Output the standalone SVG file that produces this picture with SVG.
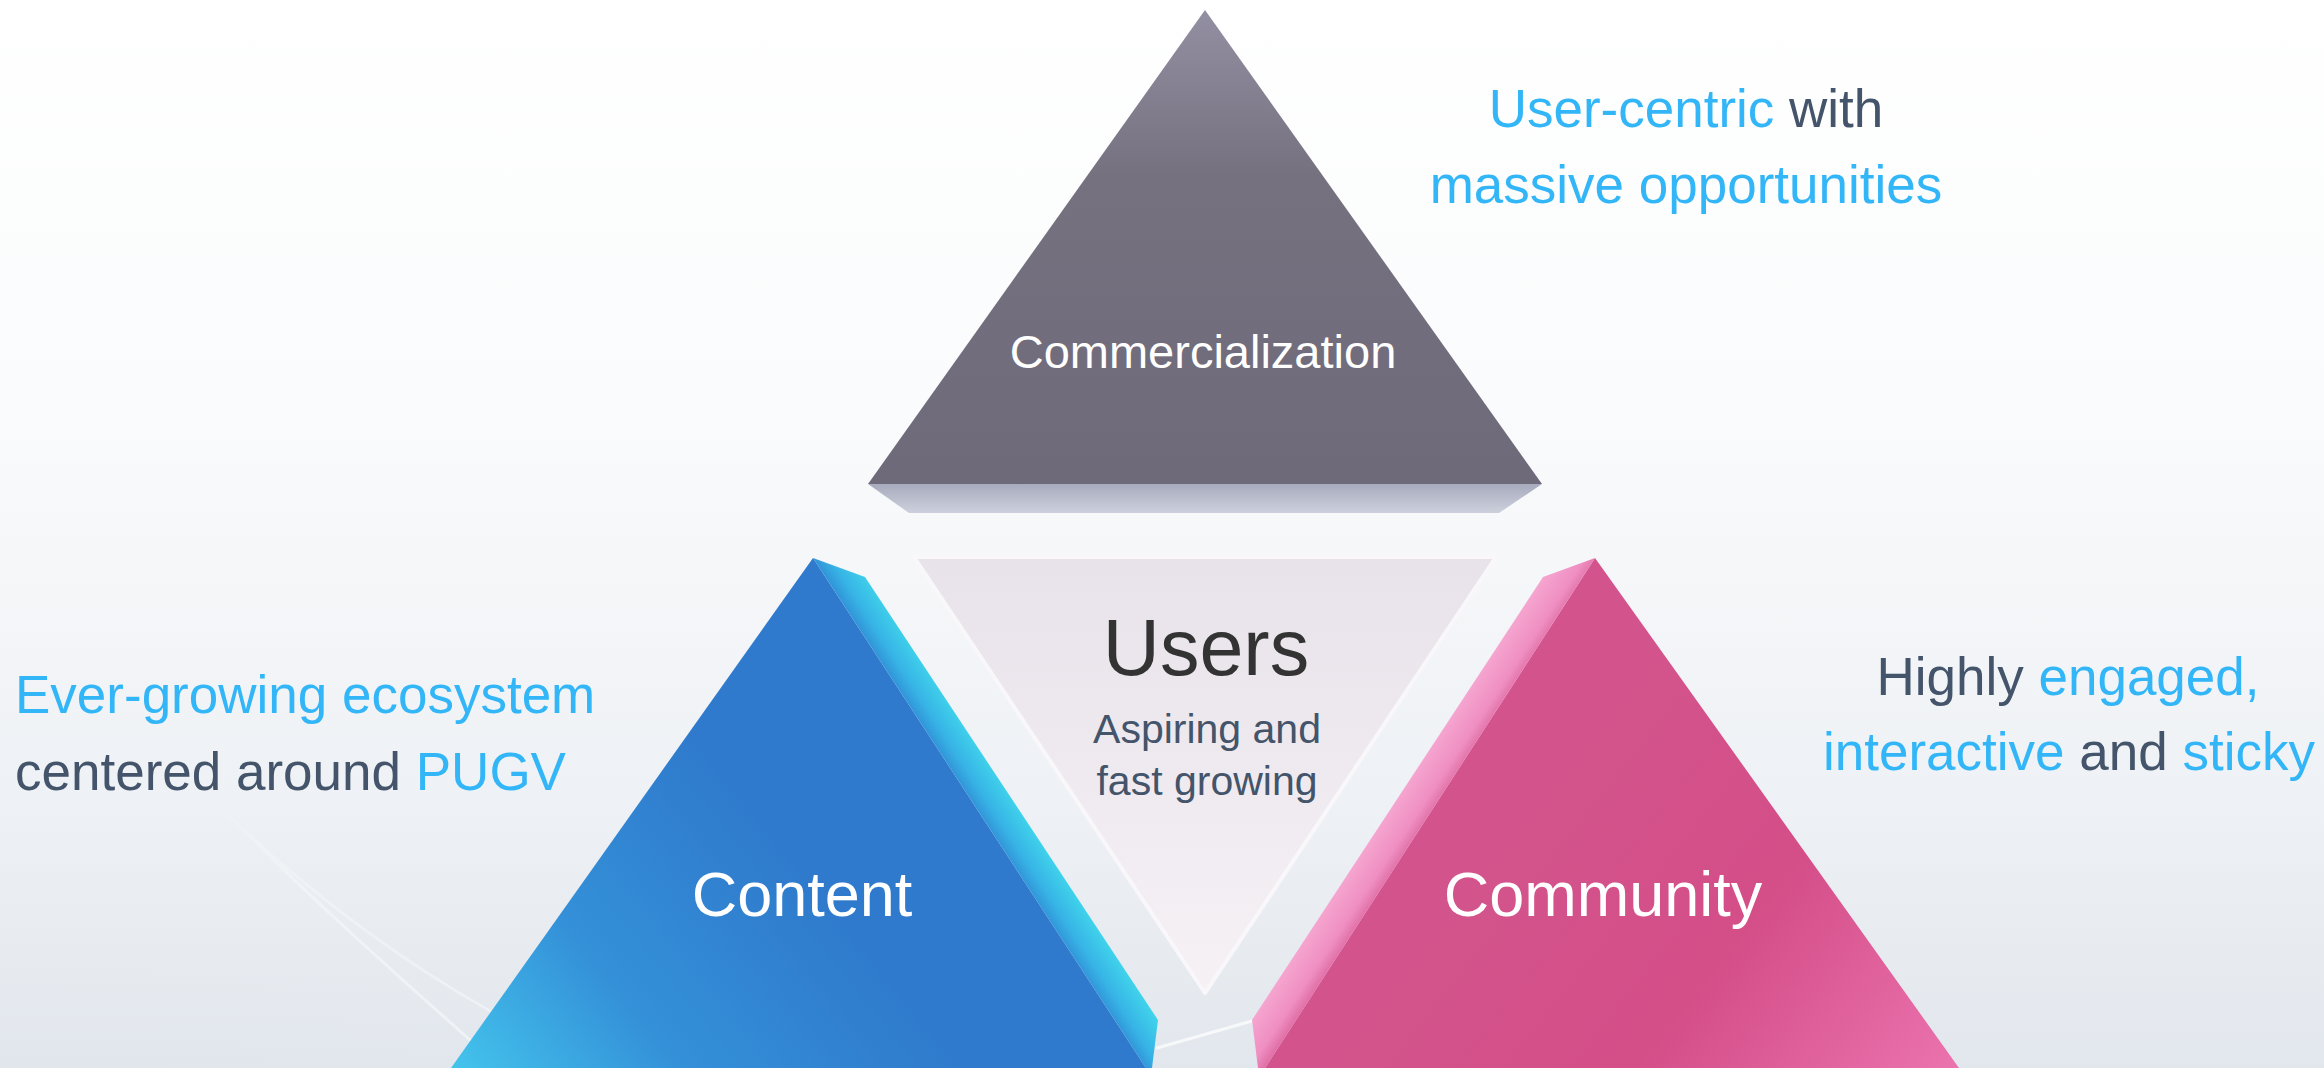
<svg xmlns="http://www.w3.org/2000/svg" width="2324" height="1068" viewBox="0 0 2324 1068">
  <defs>
    <linearGradient id="bgGrad" x1="0" y1="0" x2="0" y2="1">
      <stop offset="0" stop-color="#ffffff"/>
      <stop offset="0.38" stop-color="#fafbfc"/>
      <stop offset="0.75" stop-color="#eef1f5"/>
      <stop offset="1" stop-color="#e2e7ed"/>
    </linearGradient>
    <radialGradient id="bgShade" cx="0" cy="1" r="0.6" gradientTransform="scale(1,2.17)" gradientUnits="objectBoundingBox">
      <stop offset="0" stop-color="#d3dbe4" stop-opacity="0.8"/>
      <stop offset="1" stop-color="#d3dbe4" stop-opacity="0"/>
    </radialGradient>
    <linearGradient id="streakFade" gradientUnits="userSpaceOnUse" x1="200" y1="790" x2="490" y2="1040">
      <stop offset="0" stop-color="#ffffff" stop-opacity="0"/>
      <stop offset="0.4" stop-color="#ffffff" stop-opacity="0.6"/>
      <stop offset="1" stop-color="#ffffff" stop-opacity="0.8"/>
    </linearGradient>
    <linearGradient id="topFront" gradientUnits="userSpaceOnUse" x1="1205" y1="10" x2="1205" y2="484">
      <stop offset="0" stop-color="#938fa2"/>
      <stop offset="0.35" stop-color="#76717f"/>
      <stop offset="1" stop-color="#6f6a7a"/>
    </linearGradient>
    <linearGradient id="topBottom" gradientUnits="userSpaceOnUse" x1="0" y1="484" x2="0" y2="513">
      <stop offset="0" stop-color="#a8abbd"/>
      <stop offset="1" stop-color="#cdd0dc"/>
    </linearGradient>
    <linearGradient id="contentFront" gradientUnits="userSpaceOnUse" x1="455" y1="1068" x2="760" y2="820">
      <stop offset="0" stop-color="#43c3ec"/>
      <stop offset="0.45" stop-color="#3490d8"/>
      <stop offset="1" stop-color="#2f7acc"/>
    </linearGradient>
    <!-- runs across the bevel, inner edge to outer edge -->
    <linearGradient id="contentSide" gradientUnits="userSpaceOnUse" x1="963" y1="800" x2="1000" y2="776">
      <stop offset="0" stop-color="#2f86d2"/>
      <stop offset="0.45" stop-color="#37b4e6"/>
      <stop offset="1" stop-color="#40d4eb"/>
    </linearGradient>
    <linearGradient id="communityFront" gradientUnits="userSpaceOnUse" x1="1560" y1="760" x2="1950" y2="1068">
      <stop offset="0" stop-color="#d3548c"/>
      <stop offset="0.5" stop-color="#d44e88"/>
      <stop offset="1" stop-color="#ea72ad"/>
    </linearGradient>
    <linearGradient id="communitySide" gradientUnits="userSpaceOnUse" x1="1400" y1="790" x2="1438" y2="815">
      <stop offset="0" stop-color="#f6a7d1"/>
      <stop offset="0.6" stop-color="#ef8fc2"/>
      <stop offset="1" stop-color="#d9609a"/>
    </linearGradient>
    <linearGradient id="usersFill" gradientUnits="userSpaceOnUse" x1="0" y1="557" x2="0" y2="993">
      <stop offset="0" stop-color="#e8e3ea"/>
      <stop offset="1" stop-color="#f6f1f5"/>
    </linearGradient>
    <style>
      text { font-family: "Liberation Sans", Arial, sans-serif; }
      .label { fill: #ffffff; text-anchor: middle; }
      .note { font-size: 53px; fill: #44546a; }
      .hi { fill: #33b6f7; }
      .streak { fill: none; stroke-linecap: round; }
    </style>
  </defs>

  <!-- backdrop -->
  <g id="background">
    <rect width="2324" height="1068" fill="url(#bgGrad)"/>
    <rect width="2324" height="1068" fill="url(#bgShade)"/>
    <path class="streak" d="M 205 790 C 290 880 380 960 470 1040" stroke="url(#streakFade)" stroke-width="3" opacity="0.6"/>
    <path class="streak" d="M 250 835 C 320 900 400 960 492 1012" stroke="url(#streakFade)" stroke-width="2.5" opacity="0.5"/>
    <path class="streak" d="M 1157 1048 L 1252 1021" stroke="#ffffff" stroke-width="3" stroke-opacity="0.7"/>
  </g>

  <!-- top prism -->
  <g id="node-commercialization">
    <polygon points="868,484 1542,484 1499,513 909,513" fill="url(#topBottom)"/>
    <polygon points="1205,10 1542,484 868,484" fill="url(#topFront)"/>
    <text class="label" x="1203" y="368" font-size="47">Commercialization</text>
  </g>

  <!-- centre inverted triangle -->
  <g id="node-users">
    <polygon points="914,557 1496,557 1205,993" fill="url(#usersFill)" stroke="#f9f7fa" stroke-width="4" stroke-linejoin="round"/>
    <text x="1206" y="675" font-size="79" fill="#333333" text-anchor="middle">Users</text>
    <text x="1207" y="743" font-size="41" fill="#44546a" text-anchor="middle">Aspiring and</text>
    <text x="1207" y="795" font-size="41" fill="#44546a" text-anchor="middle">fast growing</text>
  </g>

  <!-- left prism -->
  <g id="node-content">
    <polygon points="813,558 1146,1068 451,1068" fill="url(#contentFront)"/>
    <polygon points="813,558 865,577 1158,1020 1152,1068 1146,1068" fill="url(#contentSide)"/>
    <text class="label" x="802" y="916" font-size="63">Content</text>
  </g>

  <!-- right prism -->
  <g id="node-community">
    <polygon points="1595,558 1959,1068 1265,1068" fill="url(#communityFront)"/>
    <polygon points="1595,558 1543,577 1252,1020 1258,1068 1265,1068" fill="url(#communitySide)"/>
    <text class="label" x="1603" y="916" font-size="63">Community</text>
  </g>

  <!-- side notes -->
  <g id="note-commercialization" class="note" text-anchor="middle">
    <text x="1686" y="127"><tspan class="hi">User-centric</tspan> with</text>
    <text x="1686" y="203" class="hi">massive opportunities</text>
  </g>
  <g id="note-content" class="note">
    <text x="15" y="713" class="hi">Ever-growing ecosystem</text>
    <text x="15" y="790">centered around <tspan class="hi">PUGV</tspan></text>
  </g>
  <g id="note-community" class="note" text-anchor="middle">
    <text x="2068" y="695">Highly <tspan class="hi">engaged,</tspan></text>
    <text x="2069" y="770"><tspan class="hi">interactive</tspan> and <tspan class="hi">sticky</tspan></text>
  </g>

  <g id="connectors"/>
</svg>
